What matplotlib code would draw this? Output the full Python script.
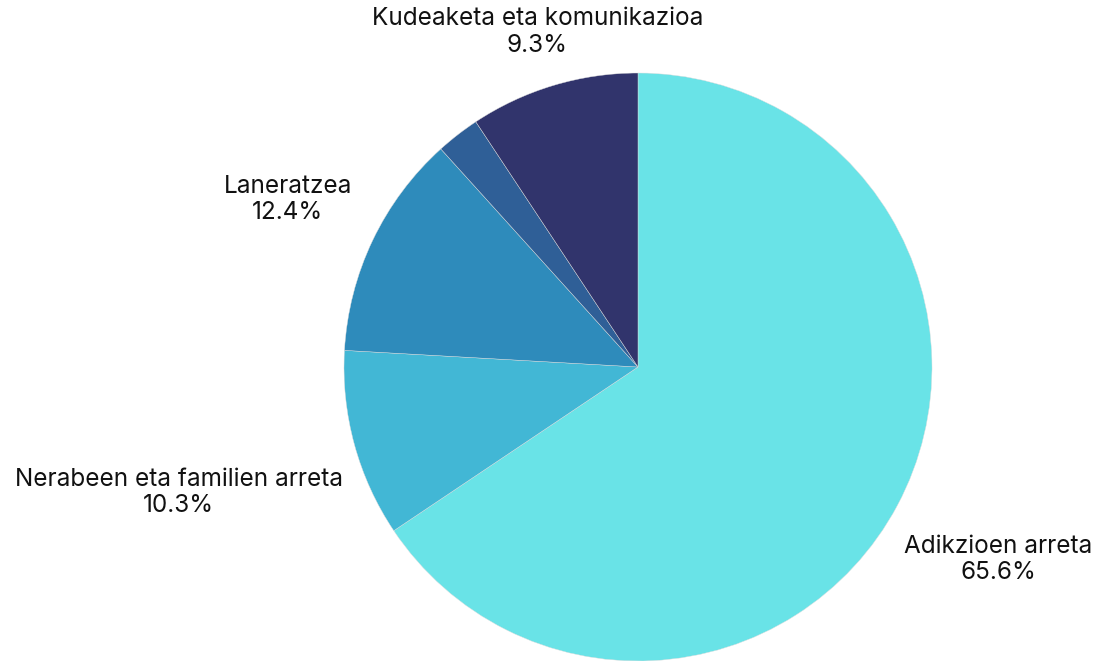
import numpy as np
import matplotlib
matplotlib.use("Agg")
import matplotlib.pyplot as plt

plt.rcParams['font.family'] = ['Inter', 'DejaVu Sans']

labels = ["Adikzioen arreta", "Nerabeen eta familien arreta", "Laneratzea", "", "Kudeaketa eta komunikazioa"]
values = [65.6, 10.3, 12.4, 2.4, 9.3]
colors = ["#69E3E7", "#42B7D5", "#2E8BBB", "#2F5F97", "#31346C"]

# how far each label centre sits from the pie centre (in radii)
label_dist = [1.39, 1.62, 1.32, 1.0, 1.19]

W, H = 1098, 661
fig = plt.figure(figsize=(W / 100, H / 100), dpi=100)
ax = fig.add_axes([0, 0, 1, 1])

cx, cy, R = 638, 294, 294
wedges, _ = ax.pie(values, colors=colors, startangle=90, counterclock=False,
                   center=(cx, cy), radius=R, frame=True,
                   wedgeprops=dict(edgecolor="#dddddd", linewidth=0.3))
ax.set_xlim(0, W)
ax.set_ylim(0, H)
ax.axis("off")

total = sum(values)
for w, lab, v, d in zip(wedges, labels, values, label_dist):
    if not lab:
        continue
    mid = np.deg2rad((w.theta1 + w.theta2) / 2)
    x = cx + d * R * np.cos(mid)
    y = cy + d * R * np.sin(mid)
    ax.text(x, y, f"{lab}\n{v / total * 100:.1f}%", ha="center", va="center",
            fontsize=17.5, color="#111111", linespacing=1.2)

fig.savefig("out.png", dpi=100)
